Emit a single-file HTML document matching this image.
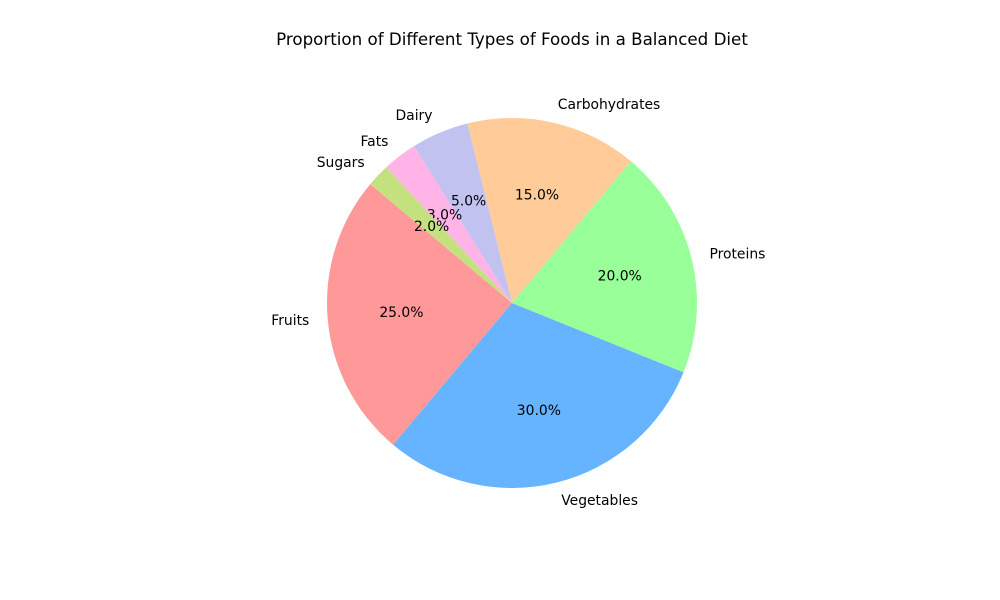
<!DOCTYPE html>
<html><head><meta charset="utf-8"><style>
body{margin:0;background:#fff}
svg{display:block;font-family:"DejaVu Sans","Liberation Sans",sans-serif}
</style></head><body>
<svg id="chart" width="1000" height="600">
<text x="512" y="45" text-anchor="middle" font-size="16.7">Proportion of Different Types of Foods in a Balanced Diet</text>
</svg>
<script>
const categories=["Fruits","Vegetables","Proteins","Carbohydrates","Dairy","Fats","Sugars"];
const values=[25,30,20,15,5,3,2];
const colors=["#ff9999","#66b3ff","#99ff99","#ffcc99","#c2c2f0","#ffb3e6","#c4e17f"];
const svg=document.getElementById('chart');
const NS="http://www.w3.org/2000/svg";
const cx=512,cy=303,r=185,start=140;
const total=values.reduce((a,b)=>a+b,0);
let a0=start;
function pt(a,rr){const t=a*Math.PI/180;return [cx+rr*Math.cos(t),cy-rr*Math.sin(t)];}
values.forEach((v,i)=>{
  const a1=a0+v/total*360;
  const [x0,y0]=pt(a0,r),[x1,y1]=pt(a1,r);
  const large=(a1-a0)>180?1:0;
  const p=document.createElementNS(NS,'path');
  p.setAttribute('d',`M${cx},${cy} L${x0},${y0} A${r},${r} 0 ${large} 0 ${x1},${y1} Z`);
  p.setAttribute('fill',colors[i]);
  
  
  svg.appendChild(p);
  const mid=(a0+a1)/2;
  const [lx,ly]=pt(mid,r*1.1);
  const t=document.createElementNS(NS,'text');
  t.setAttribute('x',lx);t.setAttribute('y',ly+4.5);
  t.setAttribute('font-size','13.9');
  t.setAttribute('text-anchor',Math.cos(mid*Math.PI/180)<0?'end':'start');
  t.textContent=categories[i];
  
  
  svg.appendChild(t);
  const [px,py]=pt(mid,r*0.6);
  const q=document.createElementNS(NS,'text');
  q.setAttribute('x',px);q.setAttribute('y',py+4.5);
  q.setAttribute('font-size','13.9');
  q.setAttribute('text-anchor','middle');
  q.textContent=(v/total*100).toFixed(1)+'%';
  
  
  svg.appendChild(q);
  a0=a1;
});
</script>
</body></html>
